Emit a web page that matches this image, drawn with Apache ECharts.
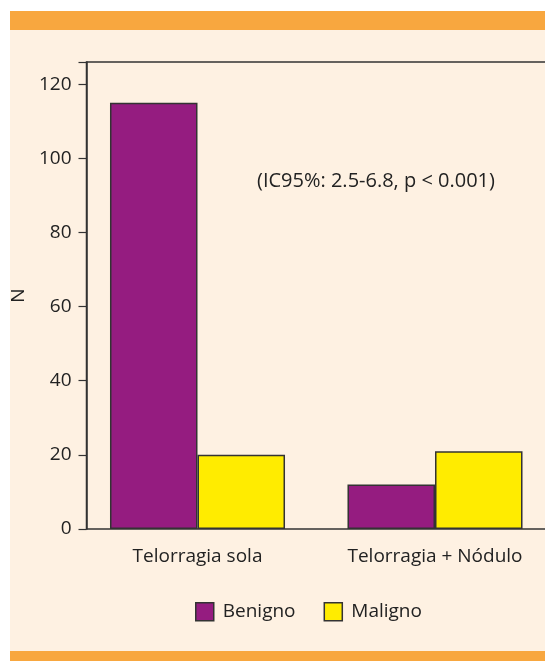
<!DOCTYPE html>
<html>
<head>
    <meta charset="utf-8">
    <title>Telorragia</title>
    <script src="https://cdn.jsdelivr.net/npm/echarts@6/dist/echarts.min.js"></script>
    <style>
        body { margin: 0; background: #ffffff; overflow: hidden; }
        .band { position: absolute; left: 10px; width: 535px; }
        #top { top: 11px; height: 19px; background: #F8A73F; }
        #panel { top: 30px; height: 621px; background: #FEF1E2; }
        #bottom { top: 651px; height: 10px; background: #F8A73F; }
        #main { position: absolute; left: 0; top: 0; width: 545px; height: 661px; }
    </style>
</head>
<body>
<div class="band" id="top"></div>
<div class="band" id="panel"></div>
<div class="band" id="bottom"></div>
<div id="main"></div>
<script type="text/javascript">
    // datos
    var categorias = ['Telorragia sola', 'Telorragia + Nódulo'];
    var benigno = [115, 12];
    var maligno = [20, 21];
    var yTicks = {min: 0, max: 126, interval: 20};
    var nota = '(IC95%: 2.5-6.8, p < 0.001)';

    var fuente = '"Open Sans", "Noto Sans", sans-serif';
    var tinta = '#222222';
    var borde = '#333333';

    var myChart = echarts.init(document.getElementById('main'), null, {renderer: 'canvas'});

    var option = {
        backgroundColor: 'transparent',
        animation: false,
        textStyle: {fontFamily: fuente, color: tinta},
        title: {
            text: nota,
            left: 257,
            top: 171,
            padding: 0,
            textStyle: {fontFamily: fuente, fontSize: 20, fontWeight: 'normal', color: tinta}
        },
        legend: {
            data: ['Benigno', 'Maligno'],
            left: 195,
            top: 602,
            padding: 0,
            itemWidth: 18,
            itemHeight: 18,
            itemGap: 28,
            icon: 'rect',
            itemStyle: {borderColor: borde, borderWidth: 1.5},
            textStyle: {fontFamily: fuente, fontSize: 19, color: tinta, padding: [0, 0, 0, 4]}
        },
        grid: [
            // barras
            {left: 78.75, width: 475, top: 62, bottom: 132, outerBoundsMode: 'none'},
            // marco y eje y
            {left: 86.5, width: 470, top: 62, bottom: 132, outerBoundsMode: 'none', show: true, borderColor: borde, borderWidth: 1.5, backgroundColor: 'transparent'}
        ],
        xAxis: [
            {
                type: 'category',
                gridIndex: 0,
                data: categorias,
                axisLine: {show: false},
                axisTick: {show: false},
                axisLabel: {fontFamily: fuente, fontSize: 19, color: tinta, margin: 18}
            },
            {type: 'value', gridIndex: 1, show: false}
        ],
        yAxis: [
            {type: 'value', gridIndex: 0, min: yTicks.min, max: yTicks.max, show: false},
            {
                type: 'value',
                gridIndex: 1,
                min: yTicks.min,
                max: yTicks.max,
                interval: yTicks.interval,
                name: 'N',
                nameLocation: 'middle',
                nameGap: 56,
                nameTextStyle: {fontFamily: fuente, fontSize: 19, color: tinta},
                axisLine: {show: true, lineStyle: {color: borde, width: 1.5}},
                axisTick: {show: true, length: 8, lineStyle: {color: borde, width: 1.2}},
                axisLabel: {
                    fontFamily: fuente, fontSize: 19, color: tinta, margin: 15,
                    formatter: function (v) { return v % yTicks.interval === 0 ? String(v) : ''; }
                },
                splitLine: {show: false}
            }
        ],
        series: [
            {
                name: 'Benigno',
                type: 'bar',
                xAxisIndex: 0,
                yAxisIndex: 0,
                data: benigno,
                barGap: '0%',
                barCategoryGap: '26.3%',
                itemStyle: {color: '#951C80', borderColor: borde, borderWidth: 1.5}
            },
            {
                name: 'Maligno',
                type: 'bar',
                xAxisIndex: 0,
                yAxisIndex: 0,
                data: maligno,
                barGap: '0%',
                barCategoryGap: '26.3%',
                itemStyle: {color: '#FFEC00', borderColor: borde, borderWidth: 1.5}
            }
        ]
    };

    myChart.setOption(option);
</script>
</body>
</html>
